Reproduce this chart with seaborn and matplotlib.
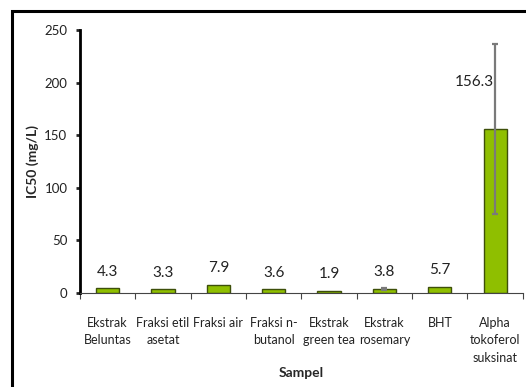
import numpy as np
import pandas as pd
import matplotlib
matplotlib.use("Agg")
import matplotlib.pyplot as plt
import matplotlib.patches as patches
import seaborn as sns

#-------------------------------------------------------------------------------------
# Data
samples = ["Ekstrak\nBeluntas", "Fraksi etil\nasetat", "Fraksi air", "Fraksi n-\nbutanol",
           "Ekstrak\ngreen tea", "Ekstrak\nrosemary", "BHT", "Alpha\ntokoferol\nsuksinat"]
ic50 = [4.3, 3.3, 7.9, 3.6, 1.9, 3.8, 5.7, 156.3]
ic50_sd = [0.0, 0.0, 0.0, 0.0, 0.0, 0.8, 0.0, 81.0]
y_ticks = [0, 50, 100, 150, 200, 250]

df = pd.DataFrame({"Sampel": samples, "IC50": ic50, "SD": ic50_sd})

#-------------------------------------------------------------------------------------
# Figure
sns.set_style("ticks")
plt.rcParams['font.family'] = ['Lato', 'DejaVu Sans']

fig = plt.figure(figsize=(5.26, 3.87), dpi=100)
ax = fig.add_axes([0.152, 0.243, 0.842, 0.679])

sns.barplot(data=df, x="Sampel", y="IC50", ax=ax, color="#8fbf00",
            width=0.42, edgecolor="#3d4f0a", linewidth=1.0, errorbar=None,
            saturation=1)

# Error bars (only where there is a deviation)
xpos = np.arange(len(samples))
has_err = df["SD"] > 0
ax.errorbar(xpos[has_err], df["IC50"][has_err], yerr=df["SD"][has_err], fmt="none",
            ecolor="#7a7a7a", elinewidth=1.6, capsize=2, capthick=1.6, zorder=5)

# Value labels
for i, v in enumerate(ic50):
    if i == len(ic50) - 1:
        ax.text(i - 0.38, 201, f"{v:.1f}", ha="center", va="center",
                fontsize=11, color="#222222")
    else:
        ax.annotate(f"{v:.1f}", (i, v), xytext=(0, 12), textcoords="offset points",
                    ha="center", va="center", fontsize=11, color="#222222")

# Axes
ax.set_ylim(0, 250)
ax.set_xlim(-0.5, len(samples) - 0.5)
ax.set_yticks(y_ticks)
ax.set_xticks(np.arange(len(samples) + 1) - 0.5, minor=True)
ax.tick_params(axis="x", which="major", length=0, pad=17, labelsize=9, labelcolor="#222222")
ax.tick_params(axis="x", which="minor", length=4, width=0.8, color="#444444", direction="out")
ax.tick_params(axis="y", length=3, width=2, direction="out", labelsize=9.5,
               labelcolor="#222222", pad=6)
for lab in ax.get_xticklabels():
    lab.set_linespacing(1.55)
    lab.set_va("top")

sns.despine(ax=ax)
ax.spines["left"].set_linewidth(2)
ax.spines["left"].set_color("black")
ax.spines["bottom"].set_linewidth(0.8)
ax.spines["bottom"].set_color("#444444")

ax.set_xlabel("Sampel", fontsize=10, fontweight="bold", va="center")
ax.xaxis.set_label_coords(0.5, -0.304)
ax.set_ylabel("IC50 (mg/L)", fontsize=10, fontweight="bold", va="center")
ax.yaxis.set_label_coords(-47 / 443, 0.5)

# Outer frame
frame = patches.Rectangle((11.5 / 526, -0.1), 1.1, 0.1 + (387 - 10.7) / 387,
                          transform=fig.transFigure, fill=False,
                          edgecolor="black", linewidth=2.2, clip_on=False)
fig.patches.append(frame)

fig.savefig("out.png", dpi=100)
